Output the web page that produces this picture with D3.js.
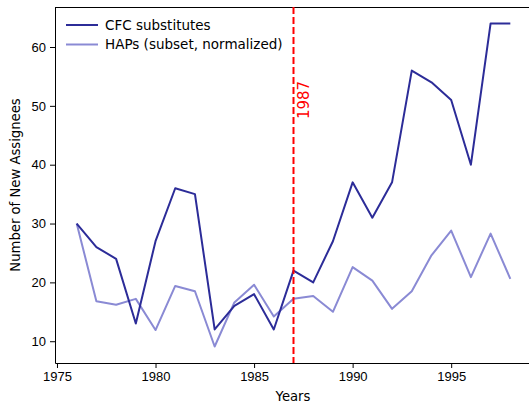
<!DOCTYPE html>
<html>
<head>
<meta charset="utf-8">
<script src="https://cdn.jsdelivr.net/npm/d3@7"></script>
<style>
  body { margin: 0; background: #fff; }
  svg { display: block; font-family: "DejaVu Sans", sans-serif; }
  .axis text { font-size: 13px; fill: #000; }
  .axis path, .axis line { stroke: #000; stroke-width: 1; }
</style>
</head>
<body>
<svg id="chart" width="529" height="406"></svg>
<script>
// data
var years = [1976, 1977, 1978, 1979, 1980, 1981, 1982, 1983, 1984, 1985, 1986, 1987,
             1988, 1989, 1990, 1991, 1992, 1993, 1994, 1995, 1996, 1997, 1998]
var cfc = [30, 26, 24, 13, 27, 36, 35, 12, 16, 18, 12, 22,
           20, 27, 37, 31, 37, 56, 54, 51, 40, 64, 64]
var haps = [30, 16.8, 16.2, 17.2, 11.9, 19.4, 18.5, 9.1, 16.6, 19.6, 14.2, 17.2,
            17.7, 15.0, 22.6, 20.3, 15.5, 18.5, 24.6, 28.8, 20.9, 28.3, 20.6]
var xTicks = [1975, 1980, 1985, 1990, 1995]
var yTicks = [10, 20, 30, 40, 50, 60]
var markYear = 1987

var seriesList = [
  { name: "CFC substitutes", values: cfc, color: "#2c2c98" },
  { name: "HAPs (subset, normalized)", values: haps, color: "#8a8ad4" }
]

var svg = d3.select("#chart")
// plot box (note: "top" is taken by window.top)
var plotLeft = 55, plotRight = 532, plotTop = 7, plotBottom = 363

var x = d3.scaleLinear().domain([1974.9, 1999.1]).range([plotLeft, plotRight])
var y = d3.scaleLinear().domain([6.3, 66.8]).range([plotBottom, plotTop])

// axes
svg.append("g")
  .attr("class", "axis")
  .attr("transform", "translate(0," + plotBottom + ")")
  .call(d3.axisBottom(x).tickValues(xTicks).tickFormat(d3.format("d")).tickSize(5).tickPadding(4).tickSizeOuter(0))

svg.append("g")
  .attr("class", "axis")
  .attr("transform", "translate(" + plotLeft + ",0)")
  .call(d3.axisLeft(y).tickValues(yTicks).tickSize(5).tickPadding(4).tickSizeOuter(0))

// top spine
svg.append("line")
  .attr("x1", plotLeft).attr("x2", plotRight)
  .attr("y1", plotTop + 0.5).attr("y2", plotTop + 0.5)
  .attr("stroke", "#000").attr("stroke-width", 1)

// lines
var line = d3.line()
  .x(function(d, i) { return x(years[i]) })
  .y(function(d) { return y(d) })

seriesList.slice().reverse().forEach(function(s) {
  svg.append("path")
    .datum(s.values)
    .attr("d", line)
    .attr("fill", "none")
    .attr("stroke", s.color)
    .attr("stroke-width", 2)
    .attr("stroke-linejoin", "round")
})

// 1987 marker
svg.append("line")
  .attr("x1", x(markYear)).attr("x2", x(markYear))
  .attr("y1", plotTop).attr("y2", plotBottom)
  .attr("stroke", "#ff0000")
  .attr("stroke-width", 2)
  .attr("stroke-dasharray", "7,3")

svg.append("text")
  .attr("transform", "translate(" + (x(markYear) + 15.5) + "," + y(51) + ") rotate(-90)")
  .attr("text-anchor", "middle")
  .attr("fill", "#ff0000")
  .style("font-size", "15px")
  .text(markYear)

// legend
var legend = svg.append("g").attr("transform", "translate(66,25)")
seriesList.forEach(function(s, i) {
  legend.append("line")
    .attr("x1", 0).attr("x2", 32)
    .attr("y1", i * 19.5).attr("y2", i * 19.5)
    .attr("stroke", s.color).attr("stroke-width", 2)
  legend.append("text")
    .attr("x", 39).attr("y", i * 19.5 + 4.8)
    .style("font-size", "13.5px")
    .text(s.name)
})

// axis titles
svg.append("text")
  .attr("x", 293).attr("y", 401)
  .attr("text-anchor", "middle")
  .style("font-size", "13.2px")
  .text("Years")

svg.append("text")
  .attr("transform", "translate(20," + ((plotTop + plotBottom) / 2) + ") rotate(-90)")
  .attr("text-anchor", "middle")
  .style("font-size", "13.2px")
  .text("Number of New Assignees")
</script>
</body>
</html>
